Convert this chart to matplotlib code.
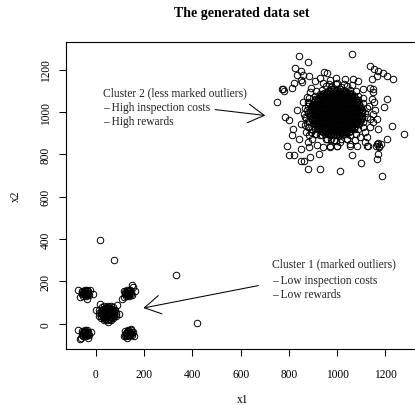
import matplotlib
matplotlib.use('Agg')
import matplotlib.pyplot as plt

# cluster 1: five tight groups plus a few stray points
c1_center = [(48,50),(58,50),(38,50),(48,60),(48,40),(55,57),(41,57),(55,43),(41,43),
             (68,50),(28,50),(48,70),(48,30),(62,64),(34,64),(62,36),(34,36),(66,58),(30,42),
             (56,68),(40,32),(57,32),(39,68),(66,42),(30,58),
             (76,50),(20,50),(48,78),(48,22),(68,70),(28,70),(68,30),(28,30),(74,62),(22,38),
             (60,76),(36,24),(74,38),(22,62),(36,76),(60,24),
             (83,52),(13,48),(50,85),(46,15),(72,77),(24,77),(73,25),(23,25),(81,66),(15,34),
             (63,83),(33,17),(82,36),(14,64),(33,83),(63,17),
             (52,52),(44,46),(53,46),(43,54),(60,55),(36,45),(50,63),(46,37),(70,56),(26,44),
             (58,72),(38,28),(18,94),(87,86),(0,63),(94,47),(52,7)]
c1_ul = [(-44,145),(-52,145),(-36,145),(-44,153),(-44,137),(-50,152),(-38,152),(-50,138),
         (-38,138),(-56,148),(-32,142),(-47,158),(-41,132),(-57,138),(-31,152),(-53,130),
         (-35,160),(-59,155),(-29,135),(-72,157),(-10,142),(-37,115),(-64,128),(-24,160)]
c1_ur = [(133,145),(125,145),(141,145),(133,153),(133,137),(127,152),(139,152),(127,138),
         (139,138),(121,148),(145,142),(130,158),(136,132),(120,138),(146,152),(124,130),
         (142,160),(118,155),(148,135),(149,184),(163,154),(108,115),(155,172),(115,128)]
c1_ll = [(-44,-45),(-52,-45),(-36,-45),(-44,-37),(-44,-53),(-50,-38),(-38,-38),(-50,-52),
         (-38,-52),(-56,-42),(-32,-48),(-47,-32),(-41,-58),(-57,-52),(-31,-38),(-53,-60),
         (-35,-30),(-59,-35),(-29,-55),(-65,-71),(-31,-68),(-72,-32),(-60,-66),(-22,-40)]
c1_lr = [(135,-45),(127,-45),(143,-45),(135,-37),(135,-53),(129,-38),(141,-38),(129,-52),
         (141,-52),(123,-42),(147,-48),(132,-32),(138,-58),(122,-52),(148,-38),(126,-60),
         (144,-30),(120,-35),(150,-55),(117,-58),(146,-24),(159,-58),(130,-70),(155,-40)]
c1_out = [(18,397),(77,299),(334,228),(420,3)]

# cluster 2: dense core (one list of x per row), edge, loose outliers
core_y = [890, 897, 905, 912, 920, 927, 935, 942, 950, 957, 965, 972, 980, 987, 995,
          1002, 1010, 1017, 1025, 1032, 1040, 1047, 1055, 1062, 1070, 1077, 1085, 1092, 1100, 1107]
core_x = [
    [972, 984, 996, 1008, 1020],
    [951, 963, 975, 987, 999, 1011, 1023, 1035],
    [942, 954, 966, 978, 990, 1002, 1014, 1026, 1038, 1050],
    [933, 945, 957, 969, 981, 993, 1005, 1017, 1029, 1041, 1053],
    [924, 936, 948, 960, 972, 984, 996, 1008, 1020, 1032, 1044, 1056, 1068],
    [915, 927, 939, 951, 963, 975, 987, 999, 1011, 1023, 1035, 1047, 1059, 1071],
    [918, 930, 942, 954, 966, 978, 990, 1002, 1014, 1026, 1038, 1050, 1062, 1074],
    [909, 921, 933, 945, 957, 969, 981, 993, 1005, 1017, 1029, 1041, 1053, 1065, 1077, 1089],
    [900, 912, 924, 936, 948, 960, 972, 984, 996, 1008, 1020, 1032, 1044, 1056, 1068, 1080, 1092],
    [903, 915, 927, 939, 951, 963, 975, 987, 999, 1011, 1023, 1035, 1047, 1059, 1071, 1083, 1095],
    [894, 906, 918, 930, 942, 954, 966, 978, 990, 1002, 1014, 1026, 1038, 1050, 1062, 1074, 1086, 1098],
    [897, 909, 921, 933, 945, 957, 969, 981, 993, 1005, 1017, 1029, 1041, 1053, 1065, 1077, 1089, 1101],
    [888, 900, 912, 924, 936, 948, 960, 972, 984, 996, 1008, 1020, 1032, 1044, 1056, 1068, 1080, 1092, 1104],
    [891, 903, 915, 927, 939, 951, 963, 975, 987, 999, 1011, 1023, 1035, 1047, 1059, 1071, 1083, 1095],
    [894, 906, 918, 930, 942, 954, 966, 978, 990, 1002, 1014, 1026, 1038, 1050, 1062, 1074, 1086, 1098],
    [897, 909, 921, 933, 945, 957, 969, 981, 993, 1005, 1017, 1029, 1041, 1053, 1065, 1077, 1089, 1101],
    [888, 900, 912, 924, 936, 948, 960, 972, 984, 996, 1008, 1020, 1032, 1044, 1056, 1068, 1080, 1092, 1104],
    [891, 903, 915, 927, 939, 951, 963, 975, 987, 999, 1011, 1023, 1035, 1047, 1059, 1071, 1083, 1095],
    [894, 906, 918, 930, 942, 954, 966, 978, 990, 1002, 1014, 1026, 1038, 1050, 1062, 1074, 1086, 1098],
    [897, 909, 921, 933, 945, 957, 969, 981, 993, 1005, 1017, 1029, 1041, 1053, 1065, 1077, 1089],
    [900, 912, 924, 936, 948, 960, 972, 984, 996, 1008, 1020, 1032, 1044, 1056, 1068, 1080, 1092],
    [903, 915, 927, 939, 951, 963, 975, 987, 999, 1011, 1023, 1035, 1047, 1059, 1071, 1083],
    [906, 918, 930, 942, 954, 966, 978, 990, 1002, 1014, 1026, 1038, 1050, 1062, 1074, 1086],
    [909, 921, 933, 945, 957, 969, 981, 993, 1005, 1017, 1029, 1041, 1053, 1065, 1077],
    [924, 936, 948, 960, 972, 984, 996, 1008, 1020, 1032, 1044, 1056, 1068],
    [927, 939, 951, 963, 975, 987, 999, 1011, 1023, 1035, 1047, 1059, 1071],
    [930, 942, 954, 966, 978, 990, 1002, 1014, 1026, 1038, 1050, 1062],
    [945, 957, 969, 981, 993, 1005, 1017, 1029, 1041, 1053],
    [960, 972, 984, 996, 1008, 1020, 1032],
    [975, 987, 999, 1011],
]
c2_edge = [(1114,998),(1107,1041),(1086,1078),(1055,1106),(1016,1121),(976,1121),(937,1106),
           (906,1078),(885,1041),(878,998),(885,955),(906,918),(937,890),(976,875),(1016,875),
           (1055,890),(1086,918),(1107,955),
           (1124,1021),(1109,1066),(1080,1101),(1040,1125),(996,1133),(952,1125),(912,1101),
           (883,1066),(868,1021),(868,975),(883,930),(912,895),(952,871),(996,863),(1040,871),
           (1080,895),(1109,930),(1124,975),
           (880,1050),(875,1010),(872,970),(878,930),(890,905),
           (940,1140),(965,1135),(1000,1140),(1030,1135),(1060,1128)]
c2_ring = [(927,1160),(946,1192),(957,1186),(971,1154),(996,1160),(1033,1157),(1065,1157),(1088,1149),
           (909,1149),(891,1113),(1109,1110),(1137,1113),(1148,1094),(1144,1063),(1130,1031),(1150,992),
           (1137,968),(1134,929),(1116,905),(1095,882),(1075,866),(1040,874),(1012,858),(985,866),
           (957,874),(930,890),(909,898),(895,874),(881,858),(885,835),(872,905),(867,937),
           (881,960),(863,992),(877,1031),(860,1047),(874,1071),(888,1094),(895,921),(850,945),
           (885,890),(918,846),(940,835),(971,842),(1001,839),(1054,850),(1082,842),(1116,858),
           (1126,839),(1165,968),(1171,921),(1192,1023)]
c2_out = [(843,1267),(1063,1275),(880,1236),(827,1209),(851,1194),(833,1176),(860,1176),(883,1173),
          (850,1154),(820,1140),(854,1142),(812,1113),(777,1110),(771,1110),(780,1099),(750,1047),
          (784,976),(802,964),(833,1012),(816,921),(812,894),(840,874),(791,842),(802,795),
          (819,795),(851,767),(862,770),(877,729),(927,732),(851,827),(888,787),(925,803),
          (1012,721),(1063,798),(1099,759),(1185,700),(1165,779),(1171,803),(1206,874),(1227,934),
          (1278,897),(1123,842),(1137,1220),(1153,1205),(1171,1194),(1189,1186),(1206,1173),(1231,1157),
          (1144,1157),(1165,1170),(1150,1110),(1206,1063),(1153,1047),(1157,1008),(1150,953),(1123,882),
          (1054,842),(971,835),(999,842),(1165,850),(1175,840),(1170,855),(1180,848),(1160,842),
          (1172,836)]

x_ticks = [0, 200, 400, 600, 800, 1000, 1200]
y_ticks = [0, 200, 400, 600, 800, 1000, 1200]

plt.rcParams['font.family'] = 'Liberation Serif'

fig = plt.figure(figsize=(4.15, 4.06), dpi=100)
ax = fig.add_axes([0.1583, 0.1379, 0.849, 0.7554])

pts = c1_center + c1_ul + c1_ur + c1_ll + c1_lr + c1_out + c2_edge + c2_ring + c2_out
for y, row in zip(core_y, core_x):
    pts = pts + [(x, y) for x in row]
xs = [p[0] for p in pts]
ys = [p[1] for p in pts]
ax.plot(xs, ys, 'o', ms=4.7, mfc='none', mec='black', mew=0.7, ls='none')

ax.set_xlim(-125, 1335)
ax.set_ylim(-120, 1330)
ax.set_xticks(x_ticks)
ax.set_yticks(y_ticks)
ax.tick_params(direction='out', length=5, width=0.75, labelsize=8.3, color='black')
ax.tick_params(axis='x', pad=8.5)
ax.tick_params(axis='y', pad=5, labelrotation=90)
for lab in ax.get_yticklabels():
    lab.set_va('center')
for s in ax.spines.values():
    s.set_linewidth(0.8)

fs = 8.3
ax.text(29, 1094, 'Cluster 2 (less marked outliers)', fontsize=fs, va='center', color='#222222')
ax.text(29, 1024, '– High inspection costs', fontsize=fs, va='center', color='#222222')
ax.text(29, 957, '– High rewards', fontsize=fs, va='center', color='#222222')
ax.text(729, 283, 'Cluster 1 (marked outliers)', fontsize=fs, va='center', color='#222222')
ax.text(729, 205, '– Low inspection costs', fontsize=fs, va='center', color='#222222')
ax.text(729, 138, '– Low rewards', fontsize=fs, va='center', color='#222222')

arr = dict(arrowstyle='->,head_length=11.5,head_width=6.7', mutation_scale=1,
           lw=0.75, color='black', shrinkA=0, shrinkB=0)
ax.annotate('', xy=(702, 984), xytext=(494, 1012), arrowprops=arr)
ax.annotate('', xy=(197, 74), xytext=(674, 180), arrowprops=arr)

fig.text(241.5/415, 1 - 14/406, 'The generated data set', ha='center', va='center',
         fontsize=10, fontweight='bold')
fig.text(243/415, 1 - 400/406, 'x1', ha='center', va='center', fontsize=fs)
fig.text(16/415, 1 - 196.5/406, 'x2', ha='center', va='center', fontsize=fs, rotation=90)

fig.savefig('out.png', dpi=100)
